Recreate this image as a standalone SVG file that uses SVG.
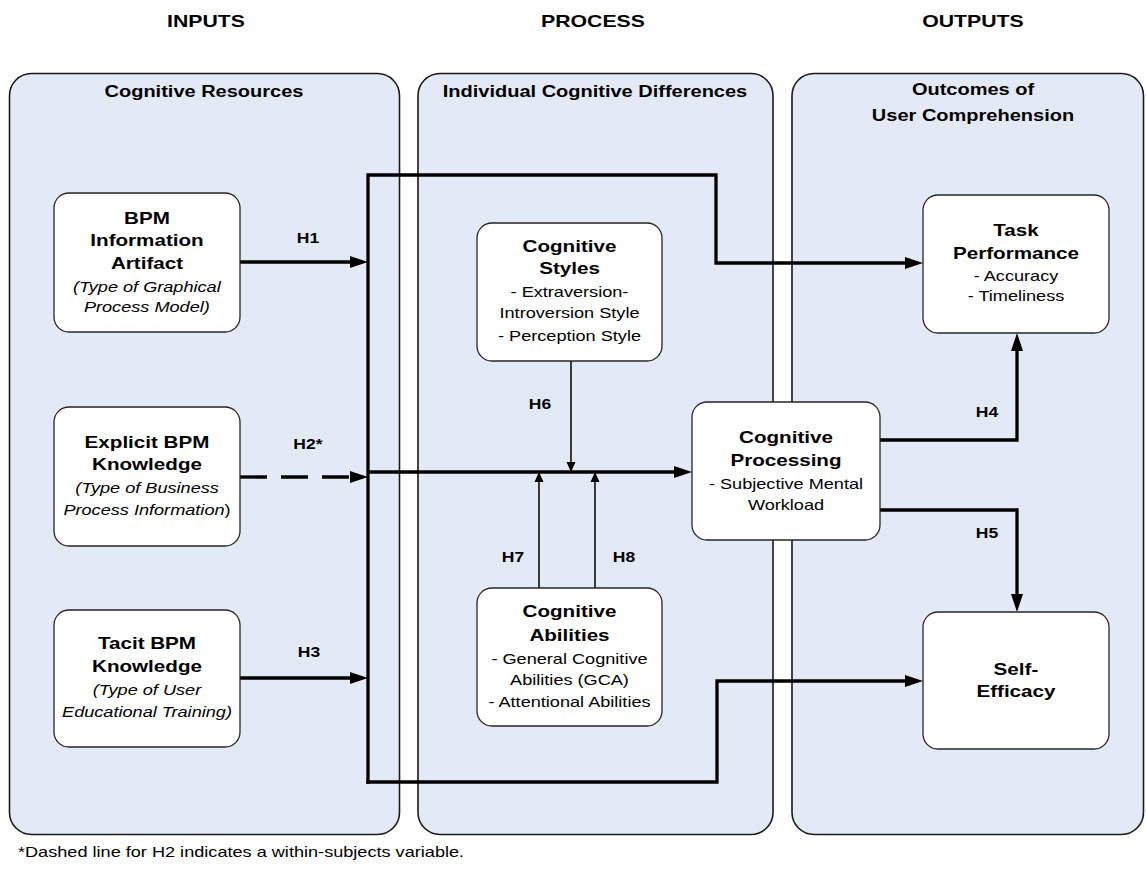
<svg xmlns="http://www.w3.org/2000/svg" width="1146" height="869" viewBox="0 0 1146 869">
  <style>
    text { font-family: "Liberation Sans", Arial, sans-serif; fill: #000; text-anchor: middle;
           transform-box: fill-box; transform-origin: center; transform: scaleX(1.25); }
    .hdr { font-size: 17px; font-weight: bold; }
    .ptitle { font-size: 16px; font-weight: bold; }
    .nt { font-size: 16.5px; font-weight: bold; }
    .ns { font-size: 14.5px; }
    .it { font-style: italic; }
    .lbl { font-size: 14px; font-weight: bold; }
    .foot { font-size: 14.5px; text-anchor: start; transform-origin: left center; }
    .panel { fill: #e4eaf5; stroke: #1a1a1a; stroke-width: 1.6; }
    .node { fill: #ffffff; stroke: #262626; stroke-width: 1.3; }
    .thick { fill: none; stroke: #000; stroke-width: 3.3; stroke-linejoin: miter; }
    .thin { fill: none; stroke: #000; stroke-width: 1.5; }
    .dash { stroke-dasharray: 27 14; }
  </style>
  <defs>
    <marker id="ah" markerUnits="userSpaceOnUse" markerWidth="18" markerHeight="12" refX="8" refY="6" orient="auto">
      <path d="M0,0 L18,6 L0,12 z" fill="#000"/>
    </marker>
    <marker id="ahs" markerUnits="userSpaceOnUse" markerWidth="10" markerHeight="10" refX="4" refY="5" orient="auto">
      <path d="M0,0.5 L10,5 L0,9.5 z" fill="#000"/>
    </marker>
  </defs>

  <rect width="1146" height="869" fill="#ffffff"/>

  <!-- column headers -->
  <g id="headers">
    <text class="hdr" x="206" y="27">INPUTS</text>
    <text class="hdr" x="593" y="27">PROCESS</text>
    <text class="hdr" x="973" y="27">OUTPUTS</text>
  </g>

  <!-- column panels -->
  <g id="panel-inputs">
    <rect class="panel" x="9.5" y="73.5" width="390" height="761" rx="22"/>
    <text class="ptitle" x="204" y="97">Cognitive Resources</text>
  </g>
  <g id="panel-process">
    <rect class="panel" x="418" y="73.5" width="355" height="761" rx="22"/>
    <text class="ptitle" x="595" y="97">Individual Cognitive Differences</text>
  </g>
  <g id="panel-outputs">
    <rect class="panel" x="792" y="73.5" width="351.5" height="761" rx="22"/>
    <text class="ptitle" x="973" y="95"><tspan x="973">Outcomes of</tspan><tspan x="973" y="121">User Comprehension</tspan></text>
  </g>

  <!-- connectors -->
  <g id="connectors">
    <path class="thick" d="M240,262 H358" marker-end="url(#ah)"/>
    <path class="thick dash" d="M240,477 H358" marker-end="url(#ah)"/>
    <path class="thick" d="M240,678 H358" marker-end="url(#ah)"/>
    <path class="thick" style="stroke-linecap:square" d="M368,782 V175 H716 V263 H913" marker-end="url(#ah)"/>
    <path class="thick" style="stroke-linecap:square" d="M368,782 H717 V681 H913" marker-end="url(#ah)"/>
    <path class="thick" d="M368,472 H682" marker-end="url(#ah)"/>
    <path class="thin" d="M571,361 V466" marker-end="url(#ahs)"/>
    <path class="thin" d="M539,588 V478" marker-end="url(#ahs)"/>
    <path class="thin" d="M595,588 V478" marker-end="url(#ahs)"/>
    <path class="thick" d="M880,440 H1017 V343" marker-end="url(#ah)"/>
    <path class="thick" d="M880,510 H1017 V602" marker-end="url(#ah)"/>
    <text class="lbl" x="308" y="243">H1</text>
    <text class="lbl" x="308" y="449">H2*</text>
    <text class="lbl" x="309" y="657">H3</text>
    <text class="lbl" x="987" y="417">H4</text>
    <text class="lbl" x="987" y="538">H5</text>
    <text class="lbl" x="540" y="409">H6</text>
    <text class="lbl" x="513" y="562">H7</text>
    <text class="lbl" x="624" y="562">H8</text>
  </g>

  <!-- input nodes -->
  <g id="bpm-artifact">
    <rect class="node" x="54" y="193" width="186" height="139" rx="15"/>
    <text class="nt" x="147" y="224"><tspan x="147">BPM</tspan><tspan x="147" y="246.5">Information</tspan><tspan x="147" y="269">Artifact</tspan></text>
    <text class="ns it" x="147" y="292"><tspan x="147">(Type of Graphical</tspan><tspan x="147" y="312">Process Model)</tspan></text>
  </g>
  <g id="explicit-knowledge">
    <rect class="node" x="54" y="407" width="186" height="139" rx="15"/>
    <text class="nt" x="147" y="448"><tspan x="147">Explicit BPM</tspan><tspan x="147" y="470.5">Knowledge</tspan></text>
    <text class="ns it" x="147" y="493"><tspan x="147">(Type of Business</tspan><tspan x="147" y="515">Process Information<tspan style="font-style:normal">)</tspan></tspan></text>
  </g>
  <g id="tacit-knowledge">
    <rect class="node" x="54" y="610" width="186" height="137" rx="15"/>
    <text class="nt" x="147" y="649"><tspan x="147">Tacit BPM</tspan><tspan x="147" y="672">Knowledge</tspan></text>
    <text class="ns it" x="147" y="695"><tspan x="147">(Type of User</tspan><tspan x="147" y="717">Educational Training)</tspan></text>
  </g>

  <!-- process nodes -->
  <g id="cognitive-styles">
    <rect class="node" x="477" y="223" width="185" height="138" rx="15"/>
    <text class="nt" x="569.5" y="252"><tspan x="569.5">Cognitive</tspan><tspan x="569.5" y="274.5">Styles</tspan></text>
    <text class="ns" x="569.5" y="297"><tspan x="569.5">- Extraversion-</tspan><tspan x="569.5" y="318.5">Introversion Style</tspan><tspan x="569.5" y="341">- Perception Style</tspan></text>
  </g>
  <g id="cognitive-abilities">
    <rect class="node" x="477" y="588" width="185" height="138" rx="15"/>
    <text class="nt" x="569.5" y="617.5"><tspan x="569.5">Cognitive</tspan><tspan x="569.5" y="641.5">Abilities</tspan></text>
    <text class="ns" x="569.5" y="664"><tspan x="569.5">- General Cognitive</tspan><tspan x="569.5" y="685.5">Abilities (GCA)</tspan><tspan x="569.5" y="707.5">- Attentional Abilities</tspan></text>
  </g>
  <g id="cognitive-processing">
    <rect class="node" x="692" y="402" width="188" height="138" rx="15"/>
    <text class="nt" x="786" y="443.5"><tspan x="786">Cognitive</tspan><tspan x="786" y="466">Processing</tspan></text>
    <text class="ns" x="786" y="489.5"><tspan x="786">- Subjective Mental</tspan><tspan x="786" y="510.5">Workload</tspan></text>
  </g>

  <!-- output nodes -->
  <g id="task-performance">
    <rect class="node" x="923" y="195" width="186" height="138" rx="15"/>
    <text class="nt" x="1016" y="236"><tspan x="1016">Task</tspan><tspan x="1016" y="259">Performance</tspan></text>
    <text class="ns" x="1016" y="281.5"><tspan x="1016">- Accuracy</tspan><tspan x="1016" y="301">- Timeliness</tspan></text>
  </g>
  <g id="self-efficacy">
    <rect class="node" x="923" y="612" width="186" height="137" rx="15"/>
    <text class="nt" x="1016" y="675"><tspan x="1016">Self-</tspan><tspan x="1016" y="697.5">Efficacy</tspan></text>
  </g>

  <!-- footnote -->
  <text class="foot" x="18" y="857">*Dashed line for H2 indicates a within-subjects variable.</text>
</svg>
